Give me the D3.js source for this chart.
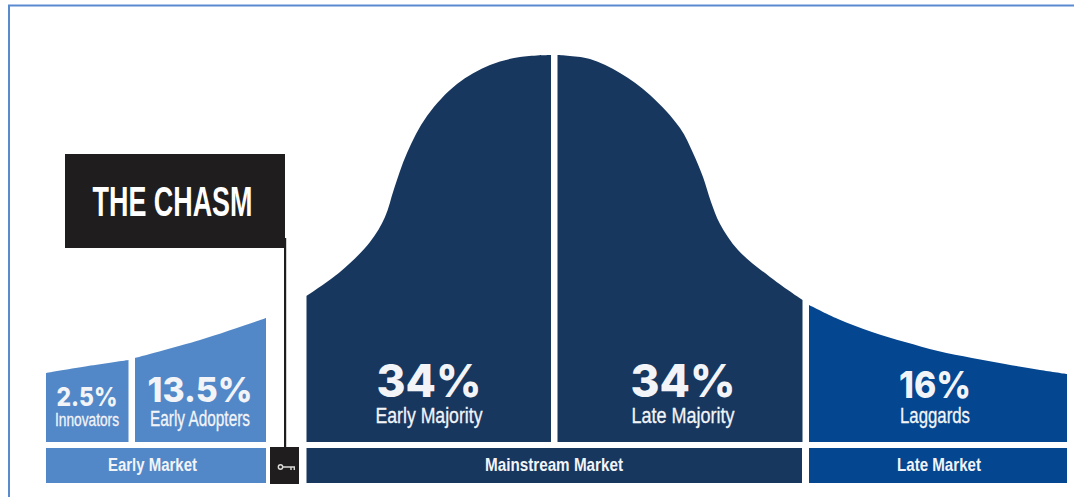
<!DOCTYPE html>
<html lang="en">
<head>
<meta charset="utf-8">
<title>The Chasm</title>
<script src="https://cdn.jsdelivr.net/npm/d3@7"></script>
<style>
  html, body { margin: 0; padding: 0; background: #fff; }
  svg { display: block; }
  text { text-anchor: middle; fill: #f2f4f8; }
</style>
</head>
<body>
<svg id="chart" width="1074" height="497" role="img" aria-label="Technology adoption curve with the chasm"></svg>
<script>
// Adoption groups and their shares of the market
const groups = ["Innovators", "Early Adopters", "Early Majority", "Late Majority", "Laggards"];
const shares = [2.5, 13.5, 34, 34, 16];
const markets = ["Early Market", "Mainstream Market", "Late Market"];
const chasmTitle = "THE CHASM";

// Curve outline per group: position along the adoption axis and height of the bell
const innovatorsPos = [46, 88, 128.5];
const innovatorsHeight = [69, 76, 82];
const adoptersPos = [135, 200, 266];
const adoptersHeight = [84, 102, 124];
const earlyMajorityPos = [306.5, 340, 370, 385, 394, 407, 427, 457, 490, 520, 551];
const earlyMajorityHeight = [146, 170, 200, 225, 253, 289, 326, 358, 377, 385, 387];
const lateMajorityPos = [557.5, 590, 620, 650, 680, 693, 703, 711, 720, 738, 770, 802.5];
const lateMajorityHeight = [387, 383, 369, 347, 314, 289, 265, 240, 218, 192, 165, 142];
const laggardsPos = [809, 838, 872, 905, 938, 972, 1005, 1040, 1067];
const laggardsHeight = [137, 123, 110, 100, 91, 84, 78, 72, 68];

const svg = d3.select("#chart");
const x = d3.scaleLinear().domain([0, 1074]).range([0, 1074]);
const y = d3.scaleLinear().domain([0, 442]).range([442, 0]);

const COLORS = { early: "#5288c8", main: "#17375f", late: "#04468f", black: "#1f1d1e", frame: "#5a8ad0" };
const NARROW = "'Liberation Sans Narrow', 'Liberation Sans', sans-serif";
const WIDE = "Inter, 'Open Sans', sans-serif";

// Page frame: open on the right and bottom edges
svg.append("path")
  .attr("d", "M9,497 V5.5 H1074")
  .attr("fill", "none")
  .attr("stroke", COLORS.frame)
  .attr("stroke-width", 2);

// Bell-curve segments
const area = d3.area()
  .x(d => x(d[0]))
  .y0(y(0))
  .y1(d => y(d[1]))
  .curve(d3.curveCatmullRom.alpha(0.5));

const segments = [
  { pos: innovatorsPos, height: innovatorsHeight, fill: COLORS.early },
  { pos: adoptersPos, height: adoptersHeight, fill: COLORS.early },
  { pos: earlyMajorityPos, height: earlyMajorityHeight, fill: COLORS.main },
  { pos: lateMajorityPos, height: lateMajorityHeight, fill: COLORS.main },
  { pos: laggardsPos, height: laggardsHeight, fill: COLORS.late }
];

svg.append("g").selectAll("path")
  .data(segments)
  .join("path")
  .attr("d", s => area(d3.zip(s.pos, s.height)))
  .attr("fill", s => s.fill);

// Share figures and group names, fitted to the width of each block
const labelLayout = [
  { cx: 87,  shareY: 406, shareSize: 26, shareW: 61,  nameY: 426, nameSize: 18, nameW: 64 },
  { cx: 200, shareY: 402, shareSize: 34, shareW: 105, nameY: 426, nameSize: 22, nameW: 100 },
  { cx: 429, shareY: 397, shareSize: 45, shareW: 105, nameY: 423, nameSize: 22, nameW: 107 },
  { cx: 683, shareY: 397, shareSize: 45, shareW: 105, nameY: 423, nameSize: 22, nameW: 103 },
  { cx: 935, shareY: 398, shareSize: 37, shareW: 72,  nameY: 423, nameSize: 22, nameW: 70 }
];

const labels = svg.append("g").selectAll("g")
  .data(groups.map((name, i) => ({ name, share: shares[i], ...labelLayout[i] })))
  .join("g");

labels.append("text")
  .attr("x", d => d.cx)
  .attr("y", d => d.shareY)
  .attr("font-family", WIDE)
  .attr("font-weight", 800)
  .attr("font-size", d => d.shareSize)
  .attr("textLength", d => d.shareW)
  .attr("lengthAdjust", "spacingAndGlyphs")
  .text(d => d.share + "%");

labels.append("text")
  .attr("x", d => d.cx)
  .attr("y", d => d.nameY)
  .attr("font-family", NARROW)
  .attr("font-size", d => d.nameSize)
  .attr("textLength", d => d.nameW)
  .attr("lengthAdjust", "spacingAndGlyphs")
  .attr("stroke", "#f2f4f8")
  .attr("stroke-width", 0.3)
  .text(d => d.name);

// Market bands under the curve
const bandLayout = [
  { x0: 46,  x1: 266,   fill: COLORS.early, cx: 152.5, w: 89 },
  { x0: 306.5, x1: 802, fill: COLORS.main,  cx: 554,   w: 138 },
  { x0: 809, x1: 1067,  fill: COLORS.late,  cx: 939,   w: 84 }
];
const band = svg.append("g").selectAll("g")
  .data(markets.map((name, i) => ({ name, ...bandLayout[i] })))
  .join("g");

band.append("rect")
  .attr("x", d => x(d.x0))
  .attr("width", d => x(d.x1) - x(d.x0))
  .attr("y", 448)
  .attr("height", 35)
  .attr("fill", d => d.fill);

band.append("text")
  .attr("x", d => d.cx)
  .attr("y", 471)
  .attr("font-family", NARROW)
  .attr("font-weight", 700)
  .attr("font-size", 19)
  .attr("textLength", d => d.w)
  .attr("lengthAdjust", "spacingAndGlyphs")
  .text(d => d.name);

// Chasm flag: pole, banner and the keyed base
const flag = svg.append("g");
flag.append("rect").attr("x", 284).attr("y", 238).attr("width", 2.2).attr("height", 210).attr("fill", COLORS.black);
flag.append("rect").attr("x", 65).attr("y", 154).attr("width", 220).attr("height", 94).attr("fill", COLORS.black);
flag.append("text")
  .attr("x", 172.5)
  .attr("y", 216)
  .attr("font-family", NARROW)
  .attr("font-weight", 700)
  .attr("font-size", 43)
  .attr("textLength", 160)
  .attr("lengthAdjust", "spacingAndGlyphs")
  .style("fill", "#fff")
  .text(chasmTitle);

flag.append("rect").attr("x", 270).attr("y", 447).attr("width", 29).attr("height", 37).attr("fill", COLORS.black);
const key = flag.append("g").attr("fill", "none").attr("stroke", "#d9d9d6").attr("stroke-width", 1.4);
key.append("circle").attr("cx", 280.5).attr("cy", 467).attr("r", 2.2);
key.append("path").attr("d", "M282.7,467 H295 M291,467 V470 M294.3,467 V470");
</script>
</body>
</html>
